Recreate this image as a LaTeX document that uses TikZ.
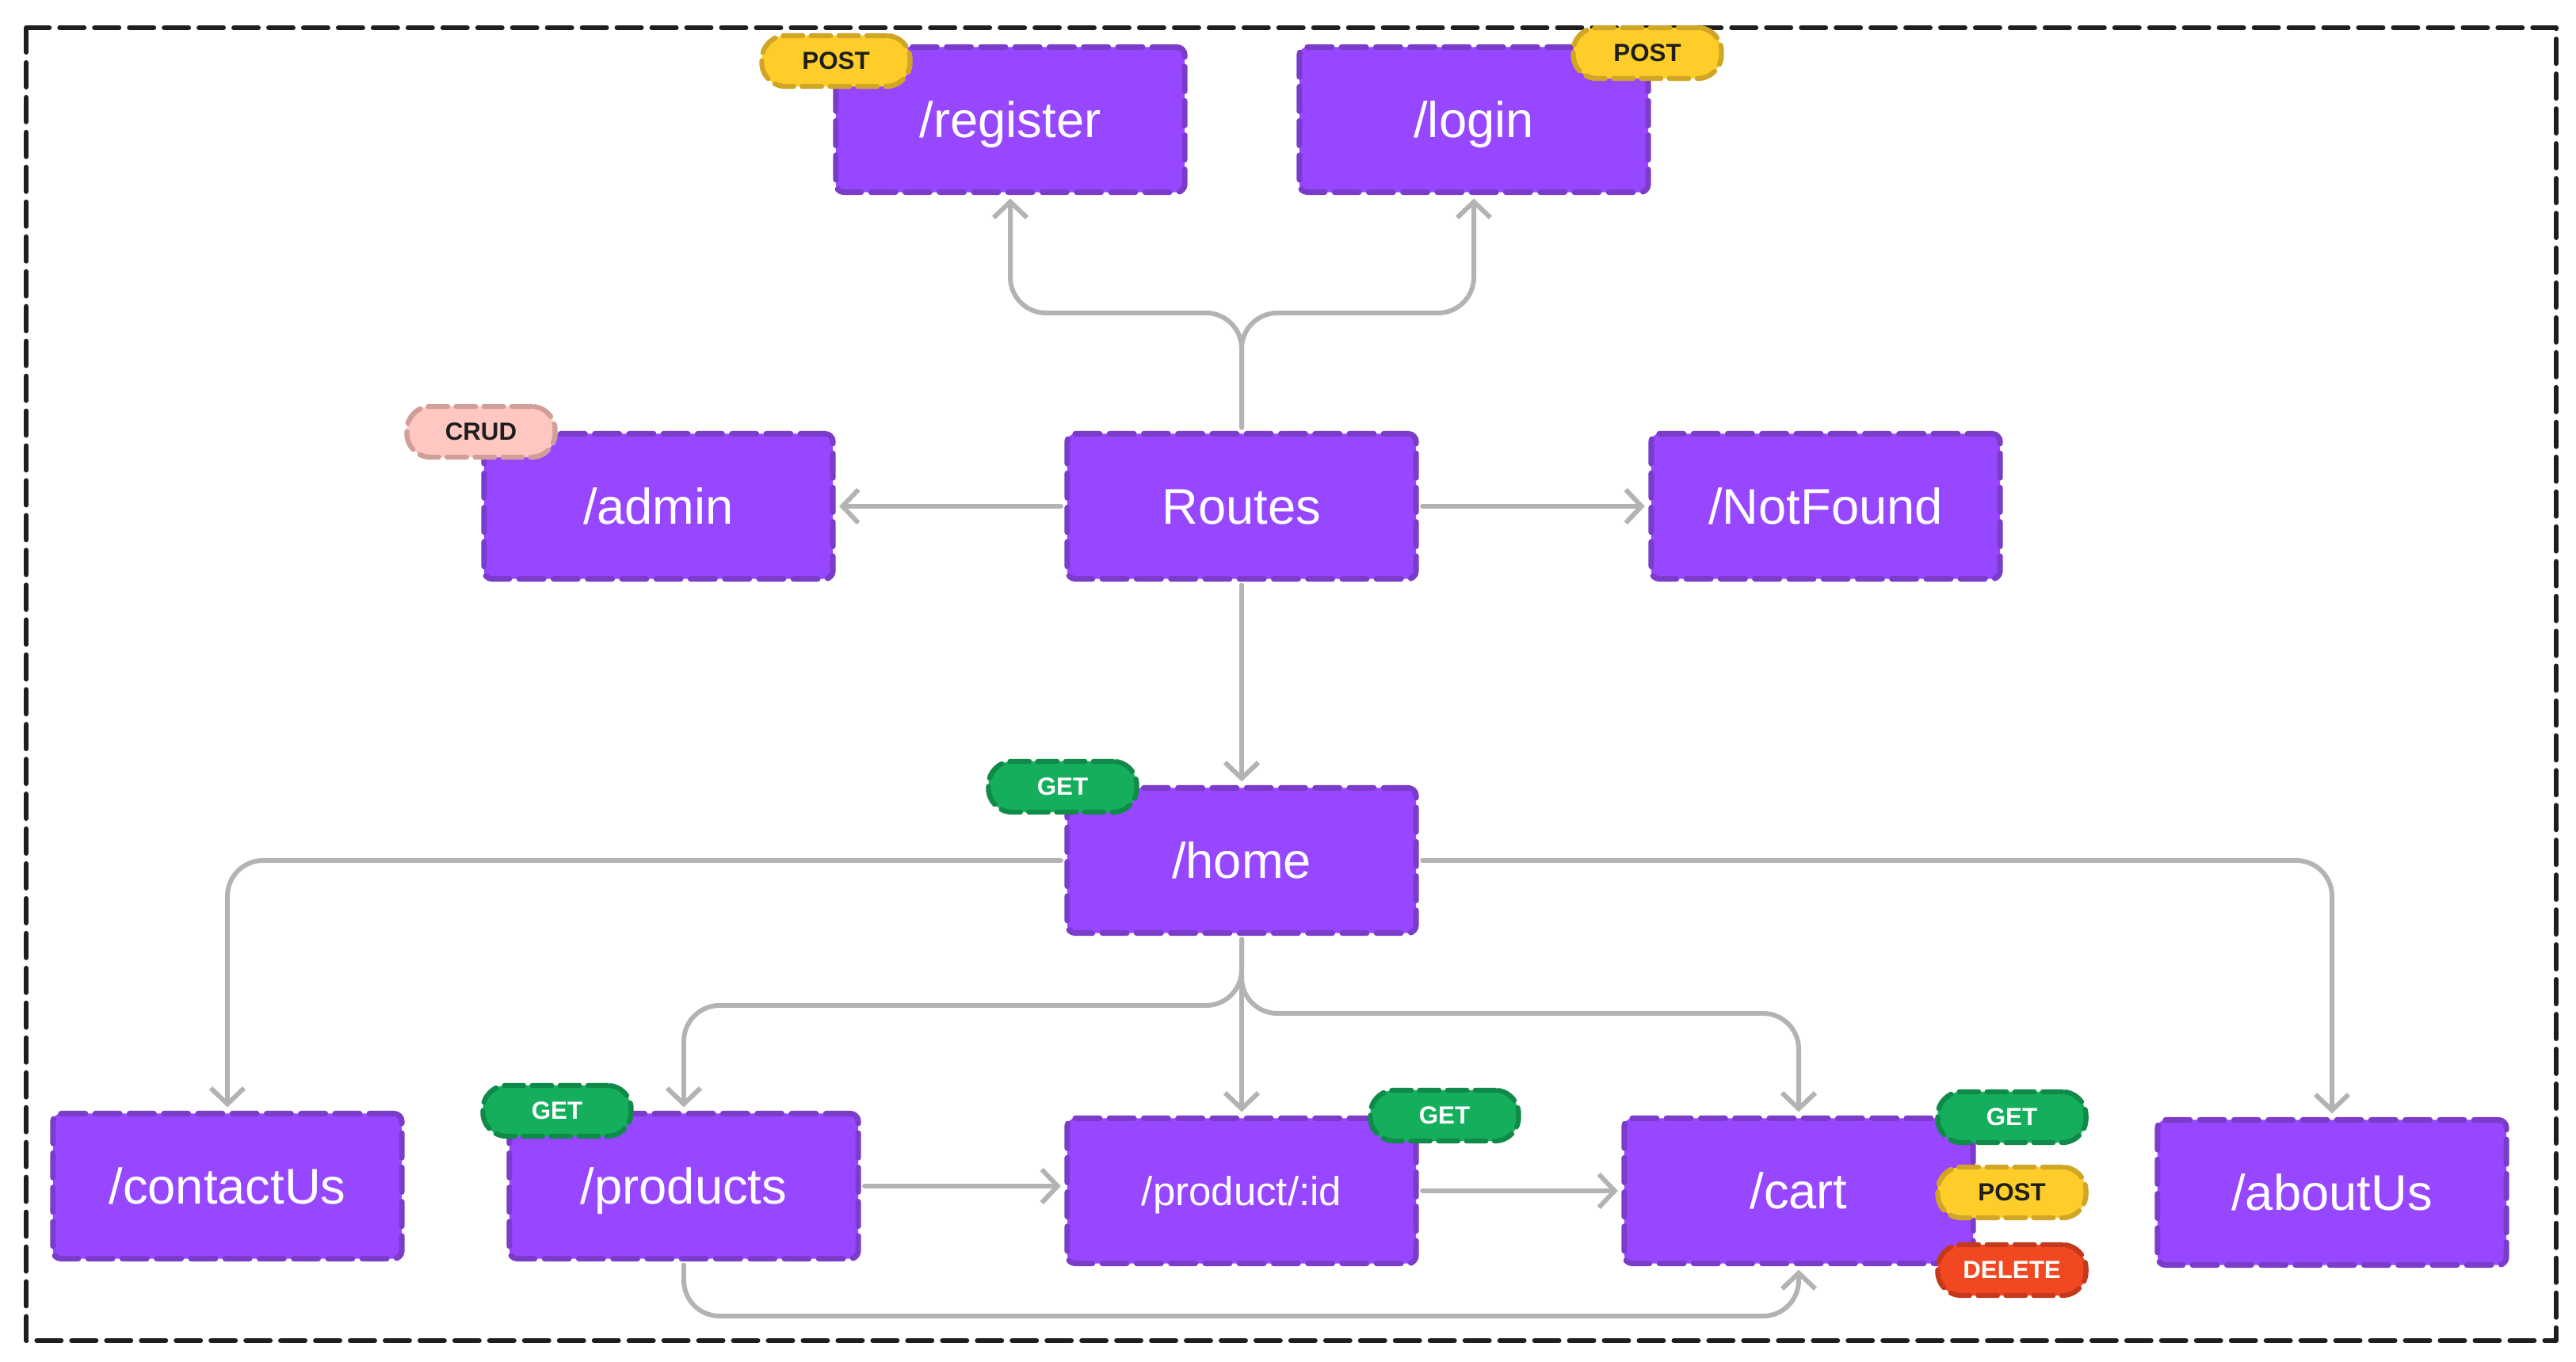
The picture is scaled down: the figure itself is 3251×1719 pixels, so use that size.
\documentclass[tikz,border=0pt]{standalone}
\usepackage{fontspec}
\setmainfont{Liberation Sans}
\usetikzlibrary{arrows.meta}
\definecolor{routepurple}{HTML}{9747FF}
\definecolor{routeedge}{HTML}{7A3CC9}
\definecolor{linkgray}{HTML}{B3B3B3}
\definecolor{getfill}{HTML}{14AE5C}
\definecolor{getedge}{HTML}{0F8A48}
\definecolor{postfill}{HTML}{FFCD29}
\definecolor{postedge}{HTML}{D1A626}
\definecolor{delfill}{HTML}{F24822}
\definecolor{deledge}{HTML}{C4391D}
\definecolor{crudfill}{HTML}{FFC7C2}
\definecolor{crudedge}{HTML}{D19F9A}
\definecolor{inkdark}{HTML}{1E1E1E}
\tikzset{
  route/.style={draw=routeedge, fill=routepurple, line width=2pt, dash pattern=on 8.8pt off 3.5pt,
    rounded corners=0.1cm, minimum width=4.4cm, minimum height=1.83cm, text=white,
    font=\fontsize{18}{20}\selectfont, text height=13pt, text depth=0pt, outer sep=0.08cm},
  badge/.style={line width=1.8pt, dash pattern=on 7pt off 3pt, rounded corners=0.3cm,
    minimum width=1.87cm, minimum height=0.64cm, inner sep=0pt, font=\fontsize{8.9}{10}\selectfont\bfseries},
  getbadge/.style={badge, draw=getedge, fill=getfill, text=white},
  postbadge/.style={badge, draw=postedge, fill=postfill, text=inkdark},
  delbadge/.style={badge, draw=deledge, fill=delfill, text=white},
  crudbadge/.style={badge, draw=crudedge, fill=crudfill, text=inkdark},
  link/.style={draw=linkgray, line width=1.7pt, rounded corners=0.45cm,
    -{Straight Barb[length=0.2cm,width=0.42cm]}},
  frame/.style={draw=inkdark, line width=1.7pt, dash pattern=on 8.8pt off 3.7pt}
}
\begin{document}
\begin{tikzpicture}[x=0.01cm, y=-0.01cm, line join=round, line cap=round]
  \useasboundingbox (0,0) rectangle (3251,1719);
  \draw[frame] (33,35) rectangle (3226,1692);

  % route boxes
  \node[route] (register) at (1275,151) {/register};
  \node[route] (login) at (1860,151) {/login};
  \node[route] (admin) at (831,639) {/admin};
  \node[route] (routes) at (1567,639) {Routes};
  \node[route] (notfound) at (2304,639) {/NotFound};
  \node[route] (home) at (1567,1086) {/home};
  \node[route] (contact) at (287,1497) {/contactUs};
  \node[route] (products) at (863,1497) {/products};
  \node[route, font=\fontsize{14.5}{16}\selectfont, text height=10.5pt] (product) at (1567,1503) {/product/:id};
  \node[route] (cart) at (2270,1503) {/cart};
  \node[route] (about) at (2943,1505) {/aboutUs};

  % fork points
  \coordinate (topfork) at (1567,395);
  \coordinate (lowleft) at (1567,1269);
  \coordinate (lowright) at (1567,1279);
  \coordinate (basefork) at (863,1661);

  % connectors
  \draw[link] (routes.north) |- (register.south |- topfork) -- (register.south);
  \draw[link] (routes.north) |- (login.south |- topfork) -- (login.south);
  \draw[link] (routes.west) -- (admin.east);
  \draw[link] (routes.east) -- (notfound.west);
  \draw[link] (routes.south) -- (home.north);
  \draw[link] (home.west) -| (contact.north);
  \draw[link] (home.east) -| (about.north);
  \draw[link] (home.south) |- (products.north |- lowleft) -- (products.north);
  \draw[link] (home.south) -- (product.north);
  \draw[link] (home.south) |- (cart.north |- lowright) -- (cart.north);
  \draw[link] (products.east) -- (products.east -| product.west);
  \draw[link] (product.east) -- (product.east -| cart.west);
  \draw[link] (products.south) |- (cart.south |- basefork) -- (cart.south);

  % method badges
  \node[postbadge] (regpost) at (1055,77) {POST};
  \node[postbadge] (loginpost) at (2079,67) {POST};
  \node[crudbadge] (admincrud) at (607,545) {CRUD};
  \node[getbadge] (homeget) at (1341,993) {GET};
  \node[getbadge] (productsget) at (703,1402) {GET};
  \node[getbadge] (productget) at (1823,1408) {GET};
  \node[getbadge] (cartget) at (2539,1410) {GET};
  \node[postbadge] (cartpost) at (2539,1505) {POST};
  \node[delbadge] (cartdel) at (2539,1603) {DELETE};
\end{tikzpicture}
\end{document}
